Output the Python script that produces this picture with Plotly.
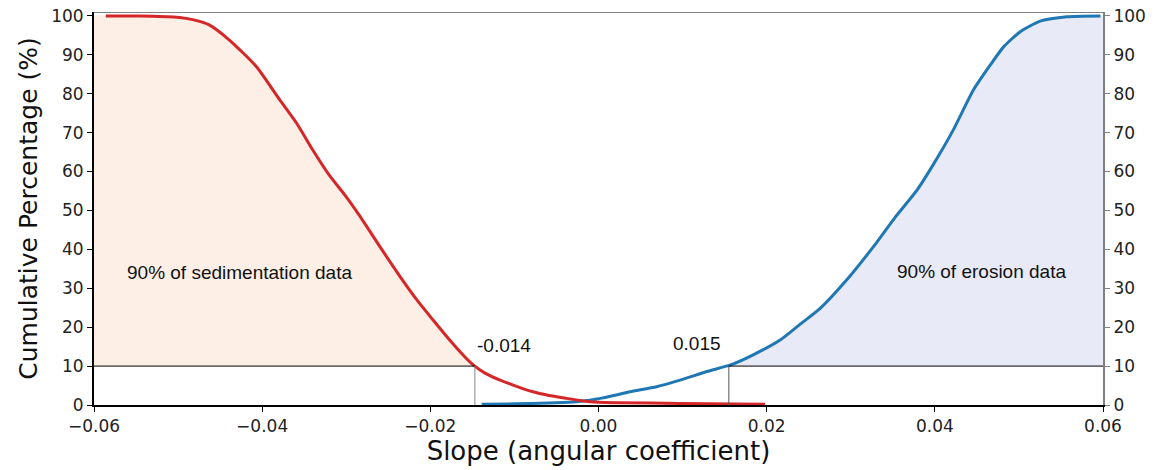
import plotly.graph_objects as go

# Cumulative curves
sed_x = [-0.0586, -0.056, -0.053, -0.0498, -0.0480, -0.0463, -0.0439, -0.0407, -0.0379,
         -0.0359, -0.0340, -0.0320, -0.0300, -0.0284, -0.0260, -0.0236, -0.0216, -0.0197,
         -0.0177, -0.0160, -0.0149, -0.0135, -0.0117, -0.0100, -0.0078, -0.0060, -0.0038,
         -0.0020, -0.0010, 0.0, 0.0025, 0.0097, 0.0198]
sed_y = [100, 100, 99.9, 99.6, 98.9, 97.7, 93.8, 87.0, 78.4,
         72.4, 65.6, 59.0, 53.5, 48.6, 40.7, 33.0, 27.0, 21.9,
         16.7, 12.6, 10.3, 8.2, 6.4, 5.0, 3.4, 2.5, 1.7,
         1.1, 0.85, 0.7, 0.6, 0.4, 0.2]

ero_x = [-0.0139, -0.010, -0.006, -0.003, -0.0010, 0.0002, 0.0020, 0.00375, 0.0069, 0.0097,
         0.0129, 0.0157, 0.0184, 0.0216, 0.0240, 0.0264, 0.0295, 0.0327, 0.0353, 0.0379,
         0.0399, 0.0422, 0.0446, 0.0466, 0.0482, 0.0502, 0.0526, 0.0557, 0.0597]
ero_y = [0.2, 0.3, 0.5, 0.8, 1.2, 1.7, 2.5, 3.4, 4.7, 6.4,
         8.6, 10.3, 12.9, 16.7, 20.8, 24.9, 32.1, 40.7, 48.3, 55.3,
         62.1, 70.7, 81.0, 87.4, 92.1, 96.0, 98.7, 99.8, 100]

threshold = 10
sed_cut = -0.0147
ero_cut = 0.0155

x_ticks = [-0.06, -0.04, -0.02, 0.0, 0.02, 0.04, 0.06]
x_labels = ["\u22120.06", "\u22120.04", "\u22120.02", "0.00", "0.02", "0.04", "0.06"]
y_ticks = list(range(0, 101, 10))

RED = "#d62728"
BLUE = "#1f77b4"
tick_font = dict(family="DejaVu Sans", size=17, color="#222222")
txt_font = dict(family="Arial, Liberation Sans", size=19, color="#111111")

# shaded polygons above the 10% line
left_px = [-0.06, -0.06] + [x for x, y in zip(sed_x, sed_y) if y > threshold] + [sed_cut]
left_py = [threshold, 100] + [y for y in sed_y if y > threshold] + [threshold]
right_px = [ero_cut] + [x for x, y in zip(ero_x, ero_y) if y > threshold] + [0.06, 0.06]
right_py = [threshold] + [y for y in ero_y if y > threshold] + [100, threshold]

fig = go.Figure()
fig.add_trace(go.Scatter(x=left_px, y=left_py, fill="toself", fillcolor="#fdefe6",
                         line=dict(width=0, shape="spline", smoothing=0.6),
                         mode="lines", hoverinfo="skip"))
fig.add_trace(go.Scatter(x=right_px, y=right_py, fill="toself", fillcolor="#e8eaf7",
                         line=dict(width=0, shape="spline", smoothing=0.6),
                         mode="lines", hoverinfo="skip"))
fig.add_trace(go.Scatter(x=ero_x, y=ero_y, mode="lines",
                         line=dict(color=BLUE, width=3, shape="spline", smoothing=0.6)))
fig.add_trace(go.Scatter(x=sed_x, y=sed_y, mode="lines",
                         line=dict(color=RED, width=3, shape="spline", smoothing=0.6)))
fig.add_trace(go.Scatter(x=[None], y=[None], yaxis="y2", showlegend=False))

# 10% guide lines
fig.add_shape(type="line", x0=-0.06, x1=sed_cut, y0=threshold, y1=threshold,
              line=dict(color="black", width=1))
fig.add_shape(type="line", x0=ero_cut, x1=0.06, y0=threshold, y1=threshold,
              line=dict(color="black", width=1))
fig.add_shape(type="line", x0=sed_cut, x1=sed_cut, y0=0, y1=threshold,
              line=dict(color="#888888", width=1))
fig.add_shape(type="line", x0=ero_cut, x1=ero_cut, y0=0, y1=threshold,
              line=dict(color="#555555", width=1))
# top spine
fig.add_shape(type="line", x0=-0.06, x1=0.06, y0=101, y1=101,
              line=dict(color="#808080", width=2))

fig.add_annotation(x=sed_cut, y=15.4, text="-0.014", showarrow=False,
                   xanchor="left", font=txt_font)
fig.add_annotation(x=0.0148, y=15.9, text="0.015", showarrow=False,
                   xanchor="right", font=txt_font)
fig.add_annotation(x=-0.0563, y=34.0, text="90% of sedimentation data", showarrow=False,
                   xanchor="left", font=txt_font)
fig.add_annotation(x=0.0353, y=34.3, text="90% of erosion data", showarrow=False,
                   xanchor="left", font=txt_font)

fig.update_layout(
    width=1158, height=470,
    margin=dict(l=94, r=55, t=12, b=65),
    plot_bgcolor="white", paper_bgcolor="white",
    showlegend=False,
    xaxis=dict(range=[-0.06, 0.06], tickvals=x_ticks, ticktext=x_labels,
               showgrid=False, zeroline=False, showline=True, linecolor="black",
               linewidth=2, ticks="outside", ticklen=5, tickcolor="black",
               tickfont=tick_font, automargin=False,
               title=dict(text="Slope (angular coefficient)", standoff=4,
                          font=dict(family="DejaVu Sans", size=26, color="#111111"))),
    yaxis=dict(range=[0, 101], tickvals=y_ticks, showgrid=False, zeroline=False,
               showline=True, linecolor="black", linewidth=2, ticks="outside",
               ticklen=5, tickcolor="black", tickfont=tick_font, automargin=False,
               ticklabeloverflow="allow",
               title=dict(text="Cumulative Percentage (%)", standoff=6,
                          font=dict(family="DejaVu Sans", size=25, color="#111111"))),
    yaxis2=dict(range=[0, 101], tickvals=y_ticks, overlaying="y", side="right",
                showgrid=False, zeroline=False, showline=True, linecolor="#808080",
                linewidth=2, ticks="outside", ticklen=5, tickcolor="#808080",
                tickfont=tick_font, automargin=False, ticklabeloverflow="allow"),
)

# drop the page's default body margin so the figure fills the window
fig.write_html("out.html", config={"displayModeBar": False},
               post_script="document.body.style.margin='0px';")
